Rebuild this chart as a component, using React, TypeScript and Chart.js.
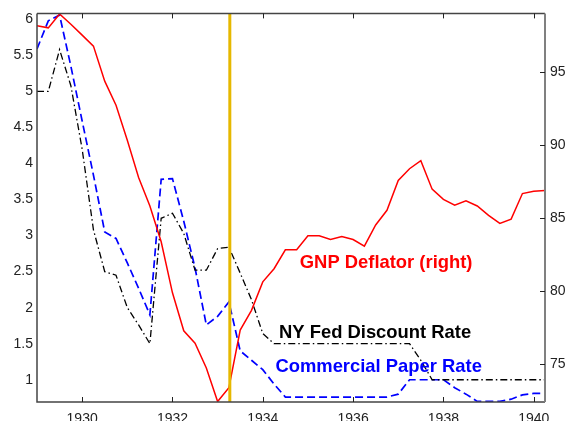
import React, { useEffect, useRef } from "react";
import { Chart, registerables } from "chart.js";

Chart.register(...registerables);

// Quarterly observations
const quarters = [
  1929, 1929.25, 1929.5, 1929.75,
  1930, 1930.25, 1930.5, 1930.75,
  1931, 1931.25, 1931.5, 1931.75,
  1932, 1932.25, 1932.5, 1932.75,
  1933, 1933.25, 1933.5, 1933.75,
  1934, 1934.25, 1934.5, 1934.75,
  1935, 1935.25, 1935.5, 1935.75,
  1936, 1936.25, 1936.5, 1936.75,
  1937, 1937.25, 1937.5, 1937.75,
  1938, 1938.25, 1938.5, 1938.75,
  1939, 1939.25, 1939.5, 1939.75,
  1940, 1940.25,
];

// GNP deflator (right axis)
const gnpDeflator = [
  98.2, 98.05, 99.0, 98.3,
  97.55, 96.8, 94.4, 92.75,
  90.35, 87.8, 85.85, 83.4,
  79.9, 77.3, 76.45, 74.75,
  72.45, 73.4, 77.35, 78.7,
  80.65, 81.55, 82.85, 82.85,
  83.8, 83.8, 83.55, 83.75,
  83.55, 83.1, 84.55, 85.55,
  87.6, 88.4, 88.95, 87.0,
  86.3, 85.9, 86.2, 85.85,
  85.2, 84.65, 84.95, 86.7,
  86.85, 86.9,
];

// NY Fed discount rate (left axis, %)
const nyFedRate = [
  5.0, 5.0, 5.58, 5.08,
  4.2, 3.08, 2.5, 2.45,
  2.0, 1.76, 1.5, 3.24,
  3.31, 3.03, 2.52, 2.52,
  2.82, 2.84, 2.48, 2.11,
  1.64, 1.5, 1.5, 1.5,
  1.5, 1.5, 1.5, 1.5,
  1.5, 1.5, 1.5, 1.5,
  1.5, 1.5, 1.27, 1.0,
  1.0, 1.0, 1.0, 1.0,
  1.0, 1.0, 1.0, 1.0,
  1.0, 1.0,
];

// Commercial paper rate (left axis, %)
const commercialPaperRate = [
  5.59, 5.98, 6.06, 5.35,
  4.59, 3.84, 3.05, 2.96,
  2.62, 2.27, 1.9, 3.78,
  3.79, 3.2, 2.55, 1.76,
  1.88, 2.08, 1.4, 1.27,
  1.14, 0.94, 0.76, 0.76,
  0.76, 0.76, 0.76, 0.76,
  0.76, 0.76, 0.76, 0.76,
  0.8, 1.0, 1.0, 1.0,
  1.0, 0.89, 0.8, 0.7,
  0.7, 0.7, 0.73, 0.79,
  0.81, 0.81,
];

const leftTicks = [1, 1.5, 2, 2.5, 3, 3.5, 4, 4.5, 5, 5.5, 6];
const rightTicks = [75, 80, 85, 90, 95];
const yearTicks = [1930, 1932, 1934, 1936, 1938, 1940];
const markerYear = 1933.27;

const seriesLabels = ["GNP Deflator (right)", "NY Fed Discount Rate", "Commercial Paper Rate"];
const labelYears = [1934.82, 1934.36, 1934.28];
const labelLevels = [2.55, 1.578, 1.107];
const labelColors = ["#ff0000", "#000000", "#0000ff"];

const FONT = "'Liberation Sans', Arial, Helvetica, sans-serif";

const framePlugin = {
  id: "frame",
  afterDatasetsDraw(chart: any) {
    const ctx = chart.ctx;
    const { left, right, top, bottom } = chart.chartArea;
    const xs = chart.scales.x;
    const y1 = chart.scales.y;
    const y2 = chart.scales.y2;
    ctx.save();
    // marker line
    const mx = xs.getPixelForValue(markerYear);
    ctx.strokeStyle = "#e6b800";
    ctx.lineWidth = 3;
    ctx.beginPath();
    ctx.moveTo(mx, top);
    ctx.lineTo(mx, bottom);
    ctx.stroke();

    // frame
    ctx.strokeStyle = "#444444";
    ctx.lineWidth = 1.5;
    ctx.beginPath();
    ctx.moveTo(left, top);
    ctx.lineTo(right, top);
    ctx.moveTo(left, top);
    ctx.lineTo(left, bottom);
    ctx.lineTo(right, bottom);
    ctx.stroke();
    ctx.strokeStyle = "#808080";
    ctx.lineWidth = 2;
    ctx.beginPath();
    ctx.moveTo(right, top);
    ctx.lineTo(right, bottom);
    ctx.stroke();

    // ticks
    ctx.strokeStyle = "#222222";
    ctx.lineWidth = 1;
    ctx.beginPath();
    yearTicks.forEach((v) => {
      const px = Math.round(xs.getPixelForValue(v)) + 0.5;
      ctx.moveTo(px, top);
      ctx.lineTo(px, top + 5);
      ctx.moveTo(px, bottom);
      ctx.lineTo(px, bottom - 5);
    });
    rightTicks.forEach((v) => {
      const py = Math.round(y2.getPixelForValue(v)) + 0.5;
      ctx.moveTo(right, py);
      ctx.lineTo(right - 5, py);
    });
    ctx.stroke();

    // series labels
    ctx.font = `bold 18.4px ${FONT}`;
    ctx.textAlign = "left";
    ctx.textBaseline = "alphabetic";
    seriesLabels.forEach((t, i) => {
      ctx.fillStyle = labelColors[i];
      ctx.fillText(t, xs.getPixelForValue(labelYears[i]), y1.getPixelForValue(labelLevels[i]));
    });
    ctx.restore();
  },
};

export default function App() {
  const ref = useRef<HTMLCanvasElement>(null);
  useEffect(() => {
    if (!ref.current) return;
    const tickFont = { family: FONT, size: 14 };
    const chart = new Chart(ref.current, {
      type: "line",
      data: {
        datasets: [
          {
            label: "GNP Deflator (right)",
            data: quarters.map((q, i) => ({ x: q, y: gnpDeflator[i] })),
            borderColor: "#ff0000",
            borderWidth: 1.5,
            yAxisID: "y2",
            pointRadius: 0,
          },
          {
            label: "NY Fed Discount Rate",
            data: quarters.map((q, i) => ({ x: q, y: nyFedRate[i] })),
            borderColor: "#000000",
            borderWidth: 1.3,
            borderDash: [7, 3, 1.5, 3],
            yAxisID: "y",
            pointRadius: 0,
          },
          {
            label: "Commercial Paper Rate",
            data: quarters.map((q, i) => ({ x: q, y: commercialPaperRate[i] })),
            borderColor: "#0000ff",
            borderWidth: 1.7,
            borderDash: [8, 4],
            yAxisID: "y",
            pointRadius: 0,
          },
        ],
      },
      options: {
        animation: false,
        responsive: true,
        maintainAspectRatio: false,
        layout: { padding: { top: 13, left: 0, right: 0, bottom: 0 } },
        plugins: { legend: { display: false }, tooltip: { enabled: false } },
        elements: { line: { tension: 0 }, point: { radius: 0 } },
        scales: {
          x: {
            type: "linear",
            position: "bottom",
            min: 1929,
            max: 1940.25,
            grid: { display: false, drawTicks: false },
            border: { display: false },
            ticks: {
              padding: 9,
              font: tickFont,
              color: "#222222",
              autoSkip: false,
              maxRotation: 0,
              callback: (v: any) => String(v),
            },
            afterBuildTicks: (s: any) => {
              s.ticks = yearTicks.map((v) => ({ value: v }));
            },
            afterFit: (s: any) => {
              s.height = 19;
            },
          },
          y: {
            type: "linear",
            position: "left",
            min: 0.691,
            max: 6.083,
            grid: { display: false, drawTicks: false },
            border: { display: false },
            ticks: { padding: 4, font: tickFont, color: "#222222", autoSkip: false, callback: (v: any) => String(v) },
            afterBuildTicks: (s: any) => {
              s.ticks = leftTicks.map((v) => ({ value: v }));
            },
            afterFit: (s: any) => {
              s.width = 37;
            },
          },
          y2: {
            type: "linear",
            position: "right",
            min: 72.42,
            max: 99.04,
            grid: { display: false, drawTicks: false },
            border: { display: false },
            ticks: { padding: 5, font: tickFont, color: "#222222", autoSkip: false, callback: (v: any) => String(v) },
            afterBuildTicks: (s: any) => {
              s.ticks = rightTicks.map((v) => ({ value: v }));
            },
            afterFit: (s: any) => {
              s.width = 21;
            },
          },
        },
      },
      plugins: [framePlugin],
    });
    return () => chart.destroy();
  }, []);
  return (
    <div style={{ position: "fixed", left: 0, top: 0, width: 566, height: 421, background: "#ffffff" }}>
      <canvas ref={ref} />
    </div>
  );
}
